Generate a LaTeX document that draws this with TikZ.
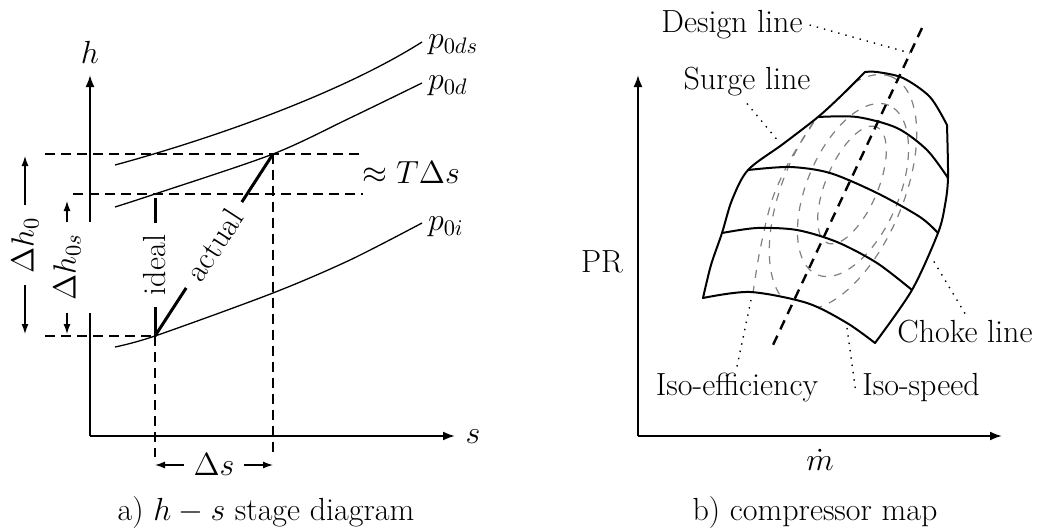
\RequirePackage{fix-cm}
\documentclass[tikz,border=0pt]{standalone}
\usepackage{amsmath}
\usepackage{fontspec}
\usetikzlibrary{arrows.meta}

\tikzset{
  axis/.style={line width=1pt, -{Latex[length=6pt,width=4.5pt]}},
  isobar/.style={line width=0.65pt},
  guide/.style={line width=0.65pt, dash pattern=on 5pt off 3pt},
  dimension/.style={line width=0.65pt, {Latex[length=5pt,width=3.5pt]}-{Latex[length=5pt,width=3.5pt]}},
  process/.style={line width=1.5pt},
  cover/.style={fill=white, inner xsep=6pt, inner ysep=1pt},
  mapline/.style={line width=1pt, line join=round},
  isoeff/.style={gray, line width=0.6pt, dash pattern=on 4pt off 4pt},
  designline/.style={line width=1.2pt, dash pattern=on 5pt off 3.5pt},
  leader/.style={line width=0.7pt, dash pattern=on 0.7pt off 3pt},
}

% outline of the compressor map (surge, top, choke, bottom)
\def\mapoutline{plot[smooth] coordinates {(703,298) (711,265) (722,233) (732,200) (748,170) (783,144) (818,117) (842,95) (865,72)}
  -- plot[smooth] coordinates {(865,72) (877,72) (903,78) (930,97) (947,125)}
  -- plot[smooth] coordinates {(947,125) (948,178) (945,205) (938,233) (912,290) (875,343)}
  -- plot[smooth] coordinates {(875,343) (847,323) (807,303) (750,292) (703,298)} -- cycle}

\begin{document}
\begin{tikzpicture}[x=0.5pt, y=-0.5pt, font=\fontsize{16}{19}\selectfont, line join=round]
    \useasboundingbox (0,0) rectangle (1040,530);

    % ---- a) h-s stage diagram ----
    \coordinate (O1) at (90,436);
    \coordinate (i1) at (155,194);   % ideal end state
    \coordinate (a2) at (273,154);   % actual end state
    \coordinate (s1) at (155,336);   % inlet state

    \draw[axis] (O1) -- (90,75);
    \draw[axis] (O1) -- (455,436);
    \node (hlab) at (90,52) {$h$};
    \node (slab) at (473,437) {$s$};

    % isobars
    \draw[isobar] (115,165) .. controls (200,142) and (335,97) .. (422,42);
    \draw[isobar] plot[smooth] coordinates {(115,207) (155,194) (273,154) (350,118) (422,83)};
    \draw[isobar] plot[smooth] coordinates {(115,347) (155,336) (273,293) (350,260) (422,223)};
    \node[anchor=west] (p0ds) at (421,45) {$p_{0ds}$};
    \node[anchor=west] (p0d) at (421,86) {$p_{0d}$};
    \node[anchor=west] (p0i) at (421,227) {$p_{0i}$};

    % guide lines
    \draw[guide] (45,154) -- (363,154);
    \draw[guide] (73,194) -- (363,194);
    \draw[guide] (45,336) -- (s1);
    \draw[guide] (s1) -- (155,457);
    \draw[guide] (a2) -- (273,457);

    % enthalpy rises
    \draw[dimension] (25,156) -- node[cover, rotate=90] (dh0) {$\Delta h_0$} (25,334);
    \draw[dimension] (67,201) -- node[cover, rotate=90, inner ysep=6pt] (dh0s) {$\Delta h_{0s}$} (67,334);

    % processes
    \draw[process, shorten <=2pt] (i1) -- node[cover, rotate=90] (ideal) {ideal} (s1);
    \draw[process] (s1) -- node[cover, sloped] (actual) {actual} (a2);

    \node[anchor=west, inner sep=0pt] (tds) at (362,173) {$\approx T\Delta s$};
    \draw[dimension] (155,465) -- node[cover, inner xsep=5pt] (ds) {$\Delta s$} (273,465);

    \node (capa) at (266,513) {a) $h - s$ stage diagram};

    % ---- b) compressor map ----
    \coordinate (O2) at (638,436);
    \draw[axis] (O2) -- (638,75);
    \draw[axis] (O2) -- (1002,436);
    \node (prlab) at (602,262) {PR};
    \node (mdot) at (820,460) {$\dot m$};

    % iso-efficiency contours
    \begin{scope}
        \clip \mapoutline;
        \foreach \a/\b/\cx/\cy in {31.5/13/852/185, 46/23/853/190, 62.5/30/843/192}
            \draw[isoeff, rotate around={67:(\cx,\cy)}] (\cx,\cy) ellipse [x radius=\a pt, y radius=\b pt];
        \draw[isoeff] plot[smooth] coordinates {(830,95) (812,125) (790,160) (772,200) (760,250) (753,293) (751,310)};
    \end{scope}

    % iso-speed lines and outline
    \draw[mapline] plot[smooth] coordinates {(818,117) (857,117) (897,128) (927,150) (948,178)};
    \draw[mapline] plot[smooth] coordinates {(748,170) (790,167) (830,173) (877,193) (920,217) (938,233)};
    \draw[mapline] plot[smooth] coordinates {(722,233) (757,228) (797,230) (837,242) (877,263) (912,290)};
    \draw[mapline] \mapoutline;

    % design line
    \coordinate (dtop) at (922,28);
    \coordinate (dbot) at (773,345);
    \draw[designline] (dtop) -- (dbot);

    % labels and leaders
    \node (design) at (732,25) {Design line};
    \node (surge) at (747,82) {Surge line};
    \node (choke) at (965,332) {Choke line};
    \node (isoeffl) at (737,388) {Iso-efficiency};
    \node (isospeed) at (921,388) {Iso-speed};
    \coordinate (dpt) at (910,53);
    \coordinate (spt) at (779,142);
    \coordinate (cpt) at (933,260);
    \coordinate (ept) at (751,300);
    \coordinate (npt) at (847,328);
    \draw[leader] (design.east) -- (dpt);
    \draw[leader] (surge.south) -- (spt);
    \draw[leader] (choke.north) -- (cpt);
    \draw[leader] (isoeffl.north) -- (ept);
    \draw[leader] (isospeed.west) -- (npt);

    \node (capb) at (815,513) {b) compressor map};
\end{tikzpicture}
\end{document}
